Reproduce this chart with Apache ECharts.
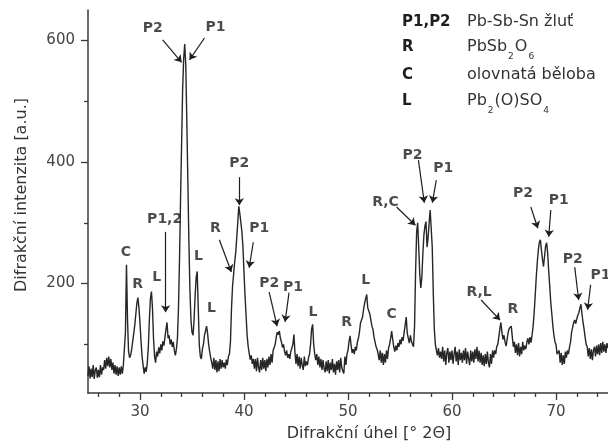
<!DOCTYPE html>
<html>
<head>
<meta charset="utf-8">
<script src="https://cdn.jsdelivr.net/npm/echarts@6/dist/echarts.min.js"></script>
<style>
html,body{margin:0;padding:0;background:#fff;}
#c{width:608px;height:445px;}
</style>
</head>
<body>
<div id="c"></div>
<script>
// ---- data ----
const angleStart = 25.0;   // first sample, ° 2Θ
const angleStep = 0.1;     // sampling step, ° 2Θ
const intensity = [
  48,64,44,60,46,66,43,58,62,45,      // 25
  58,46,66,50,62,58,74,60,78,64,      // 26
  80,62,76,58,70,52,66,50,64,48,      // 27
  62,50,64,52,66,64,120,231,140,88,   // 28
  78,82,92,105,118,132,150,168,177,160, // 29
  135,105,80,65,52,62,55,70,95,140,   // 30
  175,187,160,110,80,70,88,80,95,85,  // 31
  100,90,105,98,112,125,136,110,115,100, // 32
  108,96,104,90,82,92,110,160,240,340,   // 33
  430,520,570,594,560,470,370,270,190,140, // 34
  120,115,140,180,210,220,160,100,80,76, // 35
  92,100,115,122,130,118,100,88,78,70,   // 36
  60,78,58,74,54,72,56,76,60,74,         // 37
  62,70,60,75,66,80,84,105,160,196,      // 38
  215,235,250,275,300,327,315,300,285,260, // 39
  218,180,148,115,97,85,75,82,68,76,     // 40
  60,76,56,78,62,54,74,58,78,60,         // 41
  74,56,76,62,80,66,84,70,90,95,         // 42
  100,112,120,116,122,110,104,95,100,88, // 43
  82,90,78,84,76,88,94,100,116,86,       // 44
  68,84,64,80,60,78,66,58,80,64,         // 45
  72,66,78,84,100,125,133,100,84,74,     // 46
  84,66,80,62,76,58,74,60,54,72,         // 47
  56,74,52,70,58,76,54,68,50,72,         // 48
  58,74,54,78,62,56,52,80,66,84,         // 49
  90,105,114,98,86,92,84,96,90,104,      // 50
  110,120,135,140,145,158,168,175,182,160, // 51
  160,150,140,130,125,112,104,96,92,84,  // 52
  74,90,70,86,66,84,70,90,76,94,         // 53
  100,110,122,108,96,88,98,90,102,96,    // 54
  108,100,112,106,120,132,145,118,110,102, // 55
  115,105,100,96,130,220,285,300,260,215,  // 56
  193,210,250,280,295,302,260,275,300,321, // 57
  318,260,185,125,100,90,82,94,78,88,    // 58
  76,96,72,90,66,86,94,70,88,74,         // 59
  90,68,84,96,72,88,66,92,74,86,         // 60
  70,90,74,94,68,88,76,66,90,72,         // 61
  88,70,92,76,96,72,90,70,86,66,         // 62
  82,64,84,68,88,70,62,84,68,90,         // 63
  78,90,84,96,100,112,125,136,120,108,   // 64
  115,104,97,108,120,126,124,130,112,96, // 65
  104,86,100,82,102,80,96,84,104,90,     // 66
  98,92,104,110,100,112,103,115,130,152, // 67
  180,210,235,255,268,272,255,240,228,245, // 68
  262,267,250,220,195,168,150,130,115,104, // 69
  100,84,84,90,70,86,66,82,68,88,        // 70
  78,90,84,96,104,120,128,136,140,134,   // 71
  142,148,152,160,166,150,136,125,112,100, // 72
  96,80,94,76,92,74,90,96,80,98,         // 73
  84,100,82,102,86,104,88,100,86,102,    // 74
  94                                      // 75
];

const xMajorTicks = [30, 40, 50, 60, 70];
const xMinorTicks = [26, 28, 32, 34, 36, 38, 42, 44, 46, 48, 52, 54, 56, 58, 62, 64, 66, 68, 72, 74];
const yMajorTicks = [200, 400, 600];
const yMinorTicks = [100, 300, 500];

// peak labels: [text, angle, intensity]
const peakLabels = [
  ['P2', 31.22, 620], ['P1', 37.25, 622],
  ['P2', 39.55, 398], ['R', 37.25, 291], ['P1', 41.46, 291],
  ['C', 28.64, 252], ['R', 29.78, 198], ['L', 31.6, 211],
  ['P1,2', 32.37, 305], ['L', 35.62, 244], ['L', 36.87, 160],
  ['P2', 42.42, 201], ['P1', 44.71, 194], ['L', 46.63, 152],
  ['R', 49.88, 137], ['L', 51.7, 206], ['C', 54.19, 150],
  ['R,C', 53.61, 334], ['P2', 56.2, 411], ['P1', 59.16, 390],
  ['R,L', 62.6, 185], ['R', 65.86, 158],
  ['P2', 66.82, 349], ['P1', 70.26, 337],
  ['P2', 71.6, 240], ['P1', 74.28, 214]
];
// arrows: [fromAngle, fromIntensity, toAngle, toIntensity]
const peakArrows = [
  [32.18, 601, 34.0, 564], [36.2, 604, 34.76, 568],
  [39.55, 375, 39.55, 329], [37.63, 272, 38.78, 219], [40.89, 268, 40.5, 226],
  [32.46, 285, 32.46, 153],
  [42.42, 186, 43.18, 130], [44.33, 185, 43.95, 137],
  [54.67, 326, 56.48, 296], [56.77, 403, 57.34, 333], [58.49, 370, 58.11, 333],
  [62.8, 173, 64.62, 140],
  [67.58, 326, 68.25, 291], [69.5, 321, 69.3, 277],
  [71.8, 227, 72.18, 173], [73.33, 198, 73.04, 157]
];

const legendKeys = ['P1,P2', 'R', 'C', 'L'];
const legendNames = [
  '{n|Pb-Sb-Sn žluť}',
  '{n|PbSb}{s|2}{n|O}{s|6}',
  '{n|olovnatá běloba}',
  '{n|Pb}{s|2}{n|(O)SO}{s|4}'
];

// ---- chart ----
const FONT = 'DejaVu Sans';
const AX = '#3a3a3a';
const seriesData = intensity.map((v, i) => [+(angleStart + i * angleStep).toFixed(2), v]);

const legendRowsY = [22, 47, 75, 101];
const graphics = [
  { type: 'text', x: 369, y: 434, style: { text: 'Difrakční úhel [° 2Θ]', fontFamily: FONT, fontSize: 16, fill: '#333', align: 'center', verticalAlign: 'middle' } },
  { type: 'text', x: 22, y: 195, rotation: Math.PI / 2, style: { text: 'Difrakční intenzita [a.u.]', fontFamily: FONT, fontSize: 16, fill: '#333', align: 'center', verticalAlign: 'middle' } }
];
legendKeys.forEach((k, i) => {
  graphics.push({ type: 'text', x: 402, y: legendRowsY[i], style: { text: k, fontFamily: FONT, fontSize: 15, fontWeight: 'bold', fill: '#1e1e1e', align: 'left', verticalAlign: 'middle' } });
  graphics.push({ type: 'text', x: 467, y: legendRowsY[i], style: {
    text: legendNames[i], fill: '#333', align: 'left', verticalAlign: 'middle',
    rich: {
      n: { fontFamily: FONT, fontSize: 16, fill: '#333' },
      s: { fontFamily: FONT, fontSize: 9, fill: '#333', padding: [20, 1, 0, 1] }
    }
  } });
});

const chart = echarts.init(document.getElementById('c'));
chart.setOption({
  animation: false,
  backgroundColor: '#fff',
  grid: { left: 88, top: 10, width: 522, height: 383 },
  xAxis: [
    { type: 'value', min: 25, max: 75, position: 'bottom',
      axisLine: { onZero: false, lineStyle: { color: AX, width: 1.5 } },
      axisTick: { customValues: xMajorTicks, length: 7, lineStyle: { color: AX, width: 1.3 } },
      axisLabel: { customValues: xMajorTicks, margin: 12, fontSize: 15, fontFamily: FONT, color: '#444' },
      splitLine: { show: false } },
    { type: 'value', min: 25, max: 75, position: 'bottom',
      axisLine: { show: false, onZero: false },
      axisTick: { customValues: xMinorTicks, length: 4, lineStyle: { color: AX, width: 1.3 } },
      axisLabel: { show: false }, splitLine: { show: false } }
  ],
  yAxis: [
    { type: 'value', min: 20, max: 650, position: 'left',
      axisLine: { show: true, onZero: false, lineStyle: { color: AX, width: 1.5 } },
      axisTick: { show: true, customValues: yMajorTicks, length: 7, lineStyle: { color: AX, width: 1.3 } },
      axisLabel: { customValues: yMajorTicks, margin: 13, fontSize: 15, fontFamily: FONT, color: '#444' },
      splitLine: { show: false } },
    { type: 'value', min: 20, max: 650, position: 'left',
      axisLine: { show: false, onZero: false },
      axisTick: { show: true, customValues: yMinorTicks, length: 4, lineStyle: { color: AX, width: 1.3 } },
      axisLabel: { show: false }, splitLine: { show: false } }
  ],
  series: [
    { type: 'line', xAxisIndex: 0, yAxisIndex: 0, data: seriesData, showSymbol: false, symbol: 'none',
      lineStyle: { color: '#262626', width: 1.4 }, silent: true,
      markLine: {
        silent: true, symbol: ['none', 'arrow'], symbolSize: 7,
        lineStyle: { color: '#1e1e1e', width: 1.2, type: 'solid' },
        label: { show: false },
        data: peakArrows.map(a => [{ coord: [a[0], a[1]] }, { coord: [a[2], a[3]] }])
      }
    },
    { type: 'scatter', xAxisIndex: 0, yAxisIndex: 0, symbolSize: 1, silent: true,
      itemStyle: { color: 'rgba(0,0,0,0)' },
      label: { show: true, position: 'inside', formatter: p => p.name, fontFamily: FONT, fontSize: 14, fontWeight: 'bold', color: '#1e1e1e' },
      data: peakLabels.map(l => ({ name: l[0], value: [l[1], l[2]] }))
    }
  ],
  graphic: graphics
});
</script>
</body>
</html>
